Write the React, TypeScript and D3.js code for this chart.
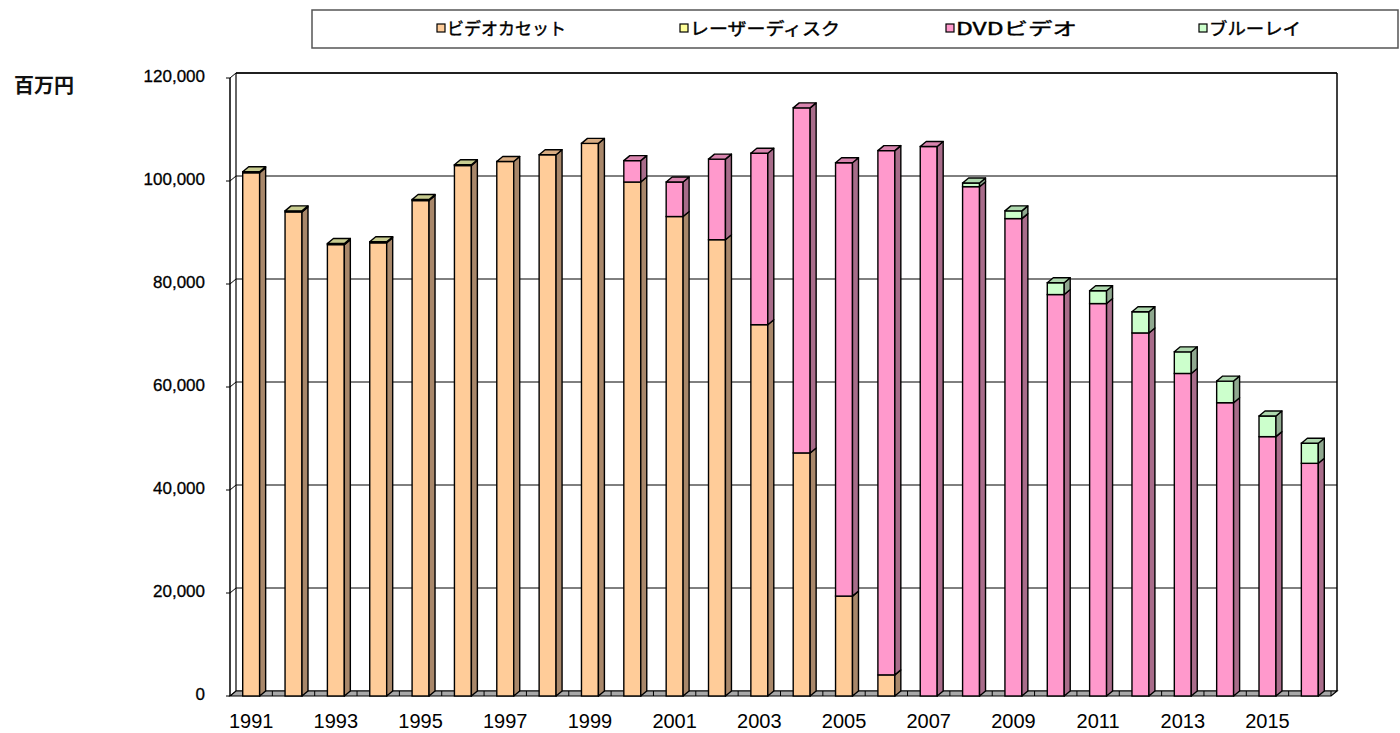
import React from "react";
import * as d3 from "d3";

const years = [1991,1992,1993,1994,1995,1996,1997,1998,1999,2000,2001,2002,2003,2004,2005,2006,2007,2008,2009,2010,2011,2012,2013,2014,2015,2016];
const videoCassette = [101600,94000,87650,88000,96200,103000,103800,105100,107300,99800,93100,88600,72100,47200,19400,4100,0,0,0,0,0,0,0,0,0,0];
const laserDisc = [200,200,200,200,200,150,0,0,0,0,0,0,0,0,0,0,0,0,0,0,0,0,0,0,0,0];
const dvdVideo = [0,0,0,0,0,0,0,0,0,4150,6700,15650,33300,67000,84150,101800,106700,98900,92700,77950,76200,70500,62630,56950,50360,45180];
const bluRay = [0,0,0,0,0,0,0,0,0,0,0,0,0,0,0,0,0,700,1500,2300,2500,4100,4200,4200,4000,3900];
const yTicks = [0,20000,40000,60000,80000,100000,120000];
const xLabelYears = [1991,1993,1995,1997,1999,2001,2003,2005,2007,2009,2011,2013,2015];
const seriesNames = ["ビデオカセット","レーザーディスク","DVDビデオ","ブルーレイ"];
const seriesColors = ["#FFCC99","#FFFF99","#FF99CC","#CCFFCC"];
const sideColors = ["#A8876A","#A8A86A","#A86C8A","#8FA88F"];
const topColors = ["#D8AC82","#C8CC90","#D884AE","#AED8AE"];
const legendX = [437, 680, 946, 1199];
const legendTextW = [119, 150, 121, 92];

const X0 = 230, X1 = 1331;
const Y0 = 696, Y1 = 78;
const DX = 6, DY = -5;

export default function App() {
  const x = d3.scaleBand<number>().domain(years).range([X0, X1]).paddingInner(0.6).paddingOuter(0.3);
  const y = d3.scaleLinear().domain([0, 120000]).range([Y0, Y1]);
  const bw = x.bandwidth();
  const series = [videoCassette, laserDisc, dvdVideo, bluRay];
  const stack = d3.stack<number>().keys([0,1,2,3] as any).value((i: number, k: any) => series[k][i]);
  const stacked = stack(years.map((_, i) => i) as any);
  const step = (X1 - X0) / years.length;

  const bars: any[] = [];
  years.forEach((yr, i) => {
    const xl = x(yr)!;
    const xr = xl + bw;
    let topIdx = -1;
    for (let s = 0; s < 4; s++) if (series[s][i] > 0) topIdx = s;
    for (let s = 0; s < 4; s++) {
      const v = series[s][i];
      if (v <= 0) continue;
      const yb = y(stacked[s][i][0]);
      const yt = y(stacked[s][i][1]);
      bars.push(
        <g key={`${yr}-${s}`}>
          <rect x={xl} y={yt} width={bw} height={yb - yt} fill={seriesColors[s]} stroke="#000" strokeWidth={1.4} />
          <polygon points={`${xr},${yt} ${xr + DX},${yt + DY} ${xr + DX},${yb + DY} ${xr},${yb}`} fill={sideColors[s]} stroke="#000" strokeWidth={1.4} strokeLinejoin="round" />
          {s === topIdx && (
            <polygon points={`${xl},${yt} ${xl + DX},${yt + DY} ${xr + DX},${yt + DY} ${xr},${yt}`} fill={topColors[s]} stroke="#000" strokeWidth={1.4} strokeLinejoin="round" />
          )}
        </g>
      );
    }
  });

  return (
    <svg width={1400} height={733} style={{ position: "absolute", left: 0, top: 0, background: "#fff" }}>
      {/* legend */}
      <rect x={312} y={10} width={1086} height={38} fill="#fff" stroke="#555" strokeWidth={1.5} />
      {seriesNames.map((n, i) => (
        <g key={n}>
          <rect x={legendX[i]} y={24} width={8} height={8} fill={seriesColors[i]} stroke="#000" strokeWidth={1.2} />
          <text x={legendX[i] + 10} y={35} fontSize={17} textLength={legendTextW[i]} lengthAdjust="spacingAndGlyphs" fontFamily="'Noto Sans CJK JP', sans-serif" fill="#000" stroke="#000" strokeWidth={0.4}>{n}</text>
        </g>
      ))}
      <text x={14} y={93} fontSize={20} fontWeight="bold" fontFamily="'Noto Sans CJK JP', sans-serif" fill="#111">百万円</text>
      {/* back wall */}
      <line x1={X0 + DX} y1={Y1 + DY} x2={X1 + DX} y2={Y1 + DY} stroke="#000" strokeWidth={1.5} />
      <line x1={X1 + DX} y1={Y1 + DY} x2={X1 + DX} y2={Y0 + DY} stroke="#000" strokeWidth={1.5} />
      {yTicks.map(t => (
        <g key={t}>
          <line x1={X0 + DX} x2={X1 + DX} y1={y(t) + DY} y2={y(t) + DY} stroke="#000" strokeWidth={1} />
          <line x1={X0} x2={X0 + DX} y1={y(t)} y2={y(t) + DY} stroke="#000" strokeWidth={1} />
          <line x1={X0 - 4} x2={X0} y1={y(t)} y2={y(t)} stroke="#000" strokeWidth={1} />
          <text x={205} y={y(t) + 4} textAnchor="end" fontSize={17} fontFamily="'Liberation Sans', Arial, sans-serif" fill="#000" stroke="#000" strokeWidth={0.3}>{d3.format(",")(t)}</text>
        </g>
      ))}
      {/* left wall */}
      <line x1={X0} y1={Y1} x2={X0} y2={Y0} stroke="#000" strokeWidth={1.5} />
      <line x1={X0 + DX} y1={Y1 + DY} x2={X0 + DX} y2={Y0 + DY} stroke="#000" strokeWidth={1.2} />
      {/* floor */}
      <polygon points={`${X0},${Y0} ${X1},${Y0} ${X1 + DX},${Y0 + DY} ${X0 + DX},${Y0 + DY}`} fill="#a8a8a8" stroke="#000" strokeWidth={1.2} />
      {years.map((_, i) => {
        const bx = X0 + step * (i + 1);
        return <line key={i} x1={bx} x2={bx} y1={Y0 + DY} y2={Y0} stroke="#000" strokeWidth={1} />;
      })}
      {bars}
      {xLabelYears.map(yr => (
        <text key={yr} x={x(yr)! + bw / 2} y={728} textAnchor="middle" fontSize={20} fontFamily="'Liberation Sans', Arial, sans-serif" fill="#000">{yr}</text>
      ))}
    </svg>
  );
}
